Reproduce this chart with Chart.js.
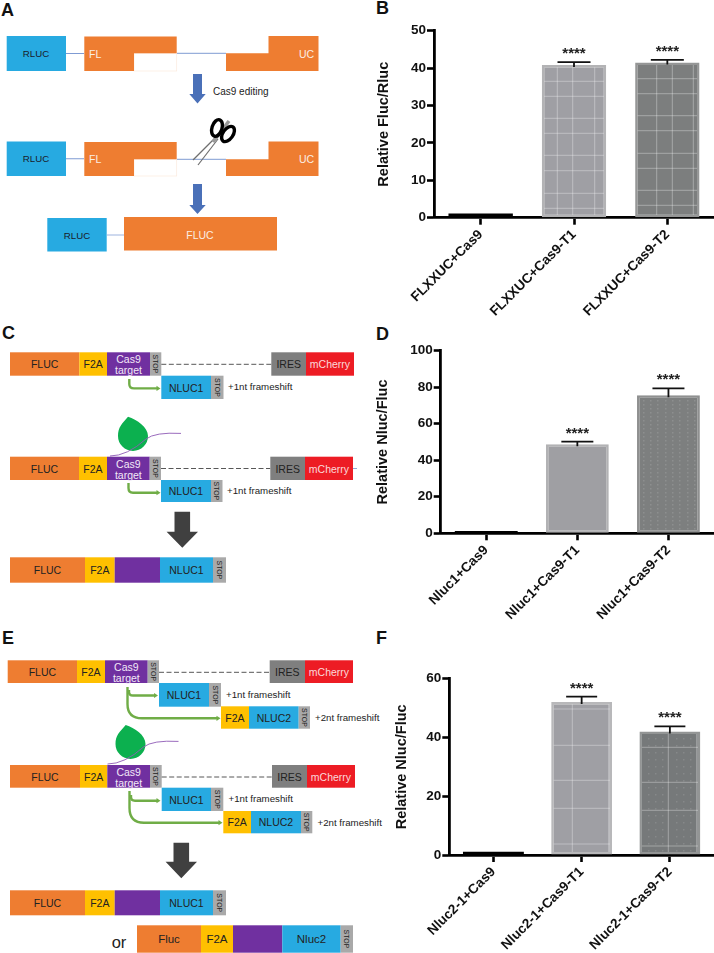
<!DOCTYPE html>
<html><head><meta charset="utf-8">
<script src="https://cdn.jsdelivr.net/npm/chart.js@4"></script>
<style>
html,body{margin:0;padding:0;background:#fff;width:714px;height:953px;overflow:hidden}
svg,canvas{position:absolute;display:block}
svg{left:0;top:0}
</style></head><body>
<svg id="s" width="714" height="953" viewBox="0 0 714 953" font-family="'Liberation Sans',Arial,sans-serif"></svg>
<canvas id="cB" style="left:360px;top:0" width="354" height="320"></canvas>
<canvas id="cD" style="left:360px;top:320px" width="354" height="320"></canvas>
<canvas id="cF" style="left:360px;top:640px" width="354" height="313"></canvas>
<script>
// ---- chart data
const bCategories = ['FLXXUC+Cas9','FLXXUC+Cas9-T1','FLXXUC+Cas9-T2'];
const bValues = [1.15, 40.8, 41.5];
const bErrorTops = [null, 41.6, 42.2];
const bTicks = [0,10,20,30,40,50];
const dCategories = ['Nluc1+Cas9','Nluc1+Cas9-T1','Nluc1+Cas9-T2'];
const dValues = [1.3, 48.7, 75.6];
const dErrorTops = [null, 50.2, 79.4];
const dTicks = [0,20,40,60,80,100];
const fCategories = ['Nluc2-1+Cas9','Nluc2-1+Cas9-T1','Nluc2-1+Cas9-T2'];
const fValues = [1.1, 52.1, 42];
const fErrorTops = [null, 53.9, 43.8];
const fTicks = [0,20,40,60];
const significance = [null,'****','****'];

const FONT = "'Liberation Sans',Arial,sans-serif";

function texture(w,h,fill,hs,vs,dotXs,dotStep,dotAlpha){
  const c=document.createElement('canvas');c.width=w;c.height=h;
  const g=c.getContext('2d');g.fillStyle=fill;g.fillRect(0,0,w,h);
  g.fillStyle='rgba(255,255,255,'+(dotAlpha||0)+')';
  (dotXs||[]).forEach(x=>{for(let y=0;y<h;y+=dotStep)g.fillRect(x,y,1.5,1.5);});
  g.fillStyle='rgba(255,255,255,.33)';
  (hs||[]).forEach(y=>g.fillRect(0,y-.5,w,1));
  (vs||[]).forEach(x=>g.fillRect(x-.5,0,1,h));
  return g.createPattern(c,'no-repeat');
}

const errorBars={id:'errorBars',afterDatasetsDraw(chart,_a,o){
  const {ctx,scales:{x,y}}=chart;ctx.save();
  o.tops.forEach((t,i)=>{ if(t==null) return;
    const cx=x.getPixelForValue(i),ty=y.getPixelForValue(t),by=y.getPixelForValue(o.values[i])+2;
    ctx.strokeStyle='#111';ctx.lineWidth=1.8;
    ctx.beginPath();ctx.moveTo(cx,by);ctx.lineTo(cx,ty);
    ctx.moveTo(cx-o.cap/2,ty);ctx.lineTo(cx+o.cap/2,ty);ctx.stroke();
    ctx.fillStyle='#222';ctx.font='bold 15px '+FONT;ctx.textAlign='center';ctx.textBaseline='alphabetic';
    ctx.fillText(significance[i],cx,ty-4);
  });ctx.restore();
}};

function bar(id,cats,vals,tops,ticks,max,axisX,yTop,y0,title,titleX,cap,fills,borders){
  const canvas=document.getElementById(id),H=canvas.height;
  new Chart(canvas,{type:'bar',
    data:{labels:cats,datasets:[{data:vals,backgroundColor:fills,borderColor:borders,borderWidth:[0,2.5,2.5],
      categoryPercentage:1,barPercentage:.69,borderSkipped:false}]},
    plugins:[errorBars],
    options:{responsive:false,animation:false,
      layout:{padding:{top:yTop,left:0,right:0,bottom:0}},
      plugins:{legend:{display:false},tooltip:{enabled:false},errorBars:{tops,values:vals,cap}},
      scales:{
        x:{grid:{offset:false,drawOnChartArea:false,tickLength:7,tickColor:'#000',tickWidth:2.6},
           border:{color:'#000',width:2.8},
           ticks:{color:'#111',font:{family:FONT,weight:'bold',size:13.6},minRotation:45,maxRotation:45,padding:2,autoSkip:false},
           afterFit(s){s.height=H-y0;}},
        y:{min:0,max,grid:{drawOnChartArea:false,tickLength:7,tickColor:'#000',tickWidth:2.6},
           border:{color:'#000',width:2.8},
           afterBuildTicks(s){s.ticks=ticks.map(v=>({value:v}));},
           ticks:{color:'#111',font:{family:FONT,weight:'bold',size:13.5},padding:1},
           title:{display:true,text:title,color:'#111',font:{family:FONT,weight:'bold',size:14.5},padding:{top:titleX-8.7,bottom:0}},
           afterFit(s){s.width=axisX;}}
      }}});
}

bar('cB',bCategories,bValues,bErrorTops,bTicks,50,74,30.7,217.7,'Relative Fluc/Rluc',24,33,
  ['#000',
   texture(354,320,'#9f9fa4',[81.3,96.3,118.3,133.3,155.3,170.7,193.3,208.3],[197.3,212.7,234.7]),
   texture(354,320,'#7c7e7e',[78.7,93.7,115.7,130.7,153.3,168.3,190.3,205.3],[296.7,312.3,333.3])],
  ['#000','#b3b3b5','#959696']);
bar('cD',dCategories,dValues,dErrorTops,dTicks,100,80.7,30.7,213.3,'Relative Nluc/Fluc',22.5,32,
  ['#000','#9f9fa3',
   texture(354,320,'#7d7f7f',[],[],[283,290,297,305,312,319,327,334],4,.13)],
  ['#000','#b2b2b4','#8f9090']);
bar('cF',fCategories,fValues,fErrorTops,fTicks,60,89.3,38.7,215,'Relative Nluc/Fluc',41.5,31,
  ['#000',
   texture(354,313,'#9f9fa4',[69,105.3,140.3,168.3,204],[212.3,248.7]),
   texture(354,313,'#76797a',[107.3,142.3,170.3,206],[308.3,336.7],[288,295,302,316,323,330],7,.12)],
  ['#000','#b8b8ba','#939595']);

// ---- schematic panels
const svg=document.getElementById('s'),NS='http://www.w3.org/2000/svg';
function el(n,a,t){const e=document.createElementNS(NS,n);for(const k in a)e.setAttribute(k,a[k]);if(t!=null)e.textContent=t;svg.appendChild(e);return e;}
function rect(x,y,x2,y2,fill,extra){return el('rect',Object.assign({x,y,width:x2-x,height:y2-y,fill},extra||{}));}
function txt(x,y,s,size,fill,anchor,weight){return el('text',{x,y,'font-size':size,fill:fill||'#222','text-anchor':anchor||'middle','dominant-baseline':'central','font-weight':weight||'normal'},s);}
const OR='#ee7d31',YE='#ffc000',PU='#7030a0',BL='#27aae1',ST='#a9a9a9',IR='#7f7f7f',RE='#ed1c24';
function stop(x,x2,y,y2){rect(x,y,x2,y2,ST);const cx=(x+x2)/2,cy=(y+y2)/2;
  el('text',{x:cx,y:cy,'font-size':7,fill:'#222','text-anchor':'middle','dominant-baseline':'central',transform:`rotate(90 ${cx} ${cy})`},'STOP');}
function seg(x,x2,y,y2,fill,label,color,size){rect(x,y,x2,y2,fill);if(label)txt((x+x2)/2,(y+y2)/2+.3,label,size||10.5,color||'#222');}
function cassette(xs,y,y2,dashY){
  seg(xs[0],xs[1],y,y2,OR,'FLUC');seg(xs[1],xs[2],y,y2,YE,'F2A');seg(xs[2],xs[3],y,y2,PU);
  const c=(xs[2]+xs[3])/2;txt(c,y+6.8,'Cas9',10.5,'#f2e8f7');txt(c,y+18,'target',10.5,'#f2e8f7');
  stop(xs[3],xs[4],y,y2);
  el('line',{x1:xs[4],x2:xs[5],y1:dashY,y2:dashY,stroke:'#444','stroke-width':.9,'stroke-dasharray':'5 2.5'});
  seg(xs[5],xs[6],y,y2,IR,'IRES');seg(xs[6],xs[7],y,y2,RE,'mCherry','#fbd9da');
}
function nluc1(x,x2,x3,y,y2,tx){seg(x,x2,y,y2,BL,'NLUC1');stop(x2,x3,y,y2);txt(tx,(y+y2)/2-.5,'+1nt frameshift',9.7,'#222','start');}
function nluc2(a,b,c,d,y,y2,tx){seg(a,b,y,y2,YE,'F2A');seg(b,c,y,y2,BL,'NLUC2');stop(c,d,y,y2);txt(tx,(y+y2)/2,'+2nt frameshift',9.7,'#222','start');}
function green(d,ex,ey){el('path',{d,fill:'none',stroke:'#70ad47','stroke-width':2.4});
  el('path',{d:`M${ex-4} ${ey-2.6}L${ex} ${ey}L${ex-4} ${ey+2.6}Z`,fill:'#70ad47'});}
function leaf(tx,ty,cx,cy){
  el('path',{d:`M${tx} ${ty}C${tx+9} ${ty+3} ${cx+15} ${cy-9} ${cx+15} ${cy}A15 15 0 0 1 ${cx-15} ${cy}C${cx-15} ${cy-9} ${tx-6} ${ty+7} ${tx} ${ty}Z`,fill:'#0cb04f'});
  el('path',{d:`M${cx-23} ${cy+20}Q${cx-6} ${cy+20} ${cx+13} ${cy+3}Q${cx+22} ${cy-4} ${cx+48} ${cy-2.6}`,fill:'none',stroke:'#8e5ab5','stroke-width':.9});
}
function darrow(cx,y1,y2,y3){el('path',{d:`M${cx-7.8} ${y1}H${cx+7.8}V${y2}H${cx+15.7}L${cx} ${y3}L${cx-15.7} ${y2}H${cx-7.8}Z`,fill:'#404040'});}
function barrow(y1,y2,y3){el('path',{d:`M193 ${y1}H202V${y2}H205.7L197.5 ${y3}L189.3 ${y2}H193Z`,fill:'#4a70b8'});}

[['A',1,16],['B',376,13.5],['C',2,339],['D',376,340],['E',2,644],['F',376,644]].forEach(([s,x,y])=>
  el('text',{x,y,'font-size':18,'font-weight':'bold',fill:'#111'},s));

// Panel A
function rowA(y,ym,yb){
  rect(6.7,y,66,yb,BL);txt(36,(y+yb)/2,'RLUC',9.7,'#1a1a2a');
  el('line',{x1:66,x2:84,y1:(y+yb)/2,y2:(y+yb)/2,stroke:'#7f9bd3','stroke-width':1});
  rect(134,ym,176.7,yb,'#fff',{stroke:'#fbeadd','stroke-width':.7});
  el('path',{d:`M84.3 ${y+.5}H176.7V${ym}H134V${yb}H84.3Z`,fill:OR});
  txt(89,(y+yb)/2+.5,'FL',10.5,'#fbeee3','start');
  el('line',{x1:177,x2:226,y1:ym,y2:ym,stroke:'#7f9bd3','stroke-width':1});
  el('path',{d:`M226 ${ym}H268.5V${y}H318.5V${yb}H226Z`,fill:OR});
  txt(299,(y+yb)/2,'UC',10.5,'#fbeee3','start');
}
rowA(36,53.3,71);
barrow(74,94,103.5);
txt(213,91,'Cas9 editing',10,'#222','start');
rowA(141.5,159.3,176);
el('path',{d:'M215 138L193 160',stroke:'#6f6f6f','stroke-width':1.2,fill:'none'});
el('path',{d:'M218 139L198 165',stroke:'#6f6f6f','stroke-width':1.2,fill:'none'});
el('path',{d:'M213 142L229 121',stroke:'#9a9a9a','stroke-width':3.5,fill:'none'});
el('ellipse',{cx:217,cy:128,rx:5,ry:8.6,fill:'none',stroke:'#000','stroke-width':3.4,transform:'rotate(18 217 128)'});
el('ellipse',{cx:228,cy:134,rx:5,ry:8.6,fill:'none',stroke:'#000','stroke-width':3.4,transform:'rotate(35 228 134)'});
barrow(184,205,214);
rect(47.3,218,106.7,251.5,BL);txt(77,235.3,'RLUC',9.7,'#1a1a2a');
el('line',{x1:107,x2:124,y1:235,y2:235,stroke:'#9db3de','stroke-width':1});
rect(124,217,277,250.5,OR);txt(200,234.5,'FLUC',10.5,'#fbeee3');

// Panel C
cassette([10,79.3,107,150,161.3,271.3,306,354],352.3,375.7,364.3);
nluc1(161.3,211,223.5,375.7,399,228);
green('M129.3 379V384Q129.3 388.4 134 388.4H157',160.5,388.4);
leaf(128,416.7,133,436);
cassette([10,79,107,149.7,161,270.3,305,353],456.7,480,468.5);
el('line',{x1:353,x2:357,y1:468.5,y2:468.5,stroke:'#8fa8d8','stroke-width':1});
nluc1(161,211,222.5,480,502,227);
green('M128.5 483V488Q128.5 492.7 133 492.7H157',160.5,492.7);
darrow(182.3,511.7,531.7,547.7);
function finalRow(y,y2){seg(10,85,y,y2,OR,'FLUC');seg(85,114.7,y,y2,YE,'F2A');seg(114.7,160,y,y2,PU);seg(160,213,y,y2,BL,'NLUC1');stop(213,226,y,y2);}
finalRow(557.3,582.7);

// Panel E
cassette([7.7,77,105,147.7,159,269.7,305,353],660.3,683,672.3);
nluc1(159,209,221,683,706.7,226);
nluc2(221,249,298.7,310,706.3,728.7,315);
green('M127.5 687V704Q127.5 718.3 142 718.3H217',220.5,718.3);
green('M129 690V692Q129 695.5 133 695.5H154',158,695.5);
leaf(125.7,725,130.5,744);
cassette([10,80,107.3,150,161.7,272,307,355],765,787.7,777);
nluc1(161.7,211,223.3,787.7,811,228.5);
nluc2(223.3,251,301,312.3,811,833.3,317.5);
green('M129.5 791V808Q129.5 822.7 144 822.7H219',222.5,822.7);
green('M131 795V797Q131 800.7 135 800.7H157',160.5,800.7);
darrow(181.3,842.7,861.7,878.3);
finalRow(890.3,915.3);
txt(119,941.5,'or',16.5,'#222');
seg(137,201,925.3,952.7,OR,'Fluc','#222',11.5);seg(201,233,925.3,952.7,YE,'F2A','#222',11.5);seg(233,282.3,925.3,952.7,PU);
seg(282.3,340.7,925.3,952.7,BL,'Nluc2','#222',11.5);stop(340.7,353,925.3,952.7);
</script>
</body></html>
